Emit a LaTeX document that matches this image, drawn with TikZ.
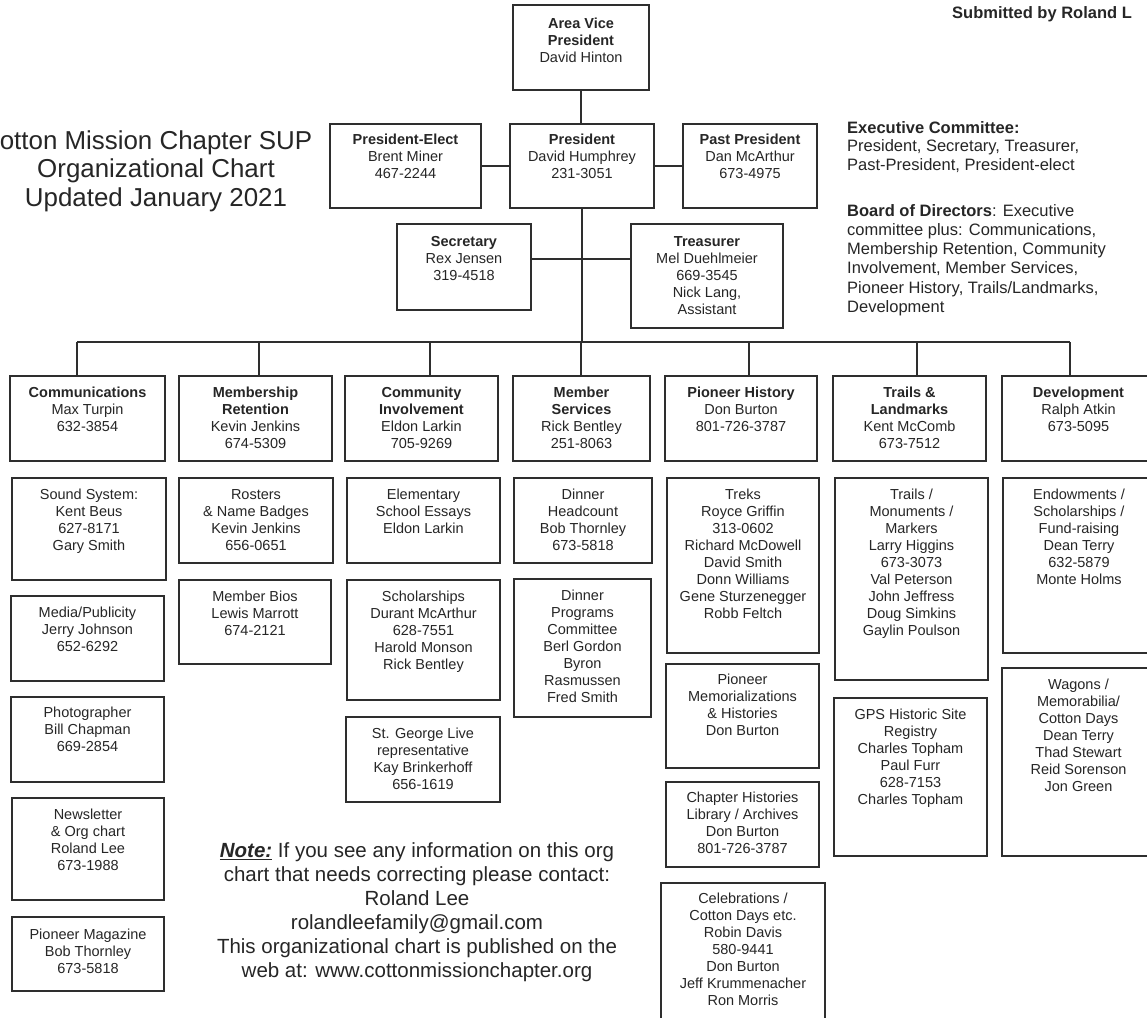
\documentclass[tikz,border=0pt]{standalone}
\usepackage{fontspec}
\setmainfont{Liberation Sans}
\usetikzlibrary{fit}
\definecolor{ink}{HTML}{262626}
\definecolor{ln}{HTML}{2E2E2E}
\tikzset{
  obox/.style={draw=ln, line width=1.6pt, inner sep=0pt, fill=white},
  otext/.style={align=center, inner sep=0pt, text=ink, font=\fontsize{14.5}{17}\selectfont},
  conn/.style={draw=ln, line width=1.6pt},
  plain/.style={inner sep=0pt, text=ink},
}
% #1 top offset, #2 name, #3 x1, #4 y1, #5 x2, #6 y2, #7 text
\newcommand\ob[7][11.5]{%
  \node[obox, fit={(#3,#4)(#5,#6)}] (#2) {};
  \node[otext, anchor=north] (#2-t) at ([yshift=-#1pt]#2.north) {\rule{0pt}{11pt}#7};
}
\begin{document}
\begin{tikzpicture}[x=1pt, y=-1pt]
\useasboundingbox (0,0) rectangle (1147,1017);
\clip (0,0) rectangle (1147,1017);
\fill[white] (0,0) rectangle (1147,1017);

% header texts
\node[plain, anchor=base west, font=\fontsize{16.5}{19}\selectfont\bfseries] (subm) at (952,18) {Submitted by Roland L};
\node[plain, anchor=north, align=center, font=\fontsize{25.9}{28.5}\selectfont] (title) at (156,130)
  {\rule{0pt}{19pt}otton Mission Chapter SUP\\Organizational Chart\\Updated January 2021};
\node[plain, anchor=north west, align=left, font=\fontsize{16.5}{18.5}\selectfont] (exec) at (847,121)
  {\rule{0pt}{12pt}\textbf{Executive Committee:}\\President, Secretary, Treasurer,\\Past-President, President-elect};
\node[plain, anchor=north west, align=left, font=\fontsize{16.5}{19.2}\selectfont] (board) at (847,204)
  {\rule{0pt}{12pt}\textbf{Board of Directors}: Executive\\committee plus: Communications,\\Membership Retention, Community\\Involvement, Member Services,\\Pioneer History, Trails/Landmarks,\\Development};
\node[plain, anchor=north, align=center, font=\fontsize{20.5}{24}\selectfont] (note) at (417,842)
  {\rule{0pt}{15pt}{\bfseries\itshape\underline{Note:}} If you see any information on this org\\chart that needs correcting please contact:\\Roland Lee\\rolandleefamily@gmail.com\\This organizational chart is published on the\\web at: www.cottonmissionchapter.org};

% top of the chart
\ob[13]{avp}{513}{5}{649}{90}{\textbf{Area Vice}\\\textbf{President}\\David Hinton}
\ob[10]{pel}{330}{124}{481}{208}{\textbf{President-Elect}\\Brent Miner\\467-2244}
\ob[10]{pres}{510}{124}{654}{208}{\textbf{President}\\David Humphrey\\231-3051}
\ob[10]{past}{683}{124}{817}{208}{\textbf{Past President}\\Dan McArthur\\673-4975}
\ob[12]{sec}{397}{224}{531}{310}{\textbf{Secretary}\\Rex Jensen\\319-4518}
\ob[12]{tre}{631}{224}{783}{328}{\textbf{Treasurer}\\Mel Duehlmeier\\669-3545\\Nick Lang,\\Assistant}

% departments
\ob{comm}{10}{376}{165}{461}{\textbf{Communications}\\Max Turpin\\632-3854}
\ob{memret}{179}{376}{332}{461}{\textbf{Membership}\\\textbf{Retention}\\Kevin Jenkins\\674-5309}
\ob{comint}{345}{376}{498}{461}{\textbf{Community}\\\textbf{Involvement}\\Eldon Larkin\\705-9269}
\ob{memsvc}{513}{376}{650}{461}{\textbf{Member}\\\textbf{Services}\\Rick Bentley\\251-8063}
\ob{pioh}{665}{376}{817}{461}{\textbf{Pioneer History}\\Don Burton\\801-726-3787}
\ob{trails}{833}{376}{986}{461}{\textbf{Trails \&}\\\textbf{Landmarks}\\Kent McComb\\673-7512}
\ob{dev}{1002}{376}{1155}{461}{\textbf{Development}\\Ralph Atkin\\673-5095}

% column 1
\ob{sound}{12}{478}{166}{580}{Sound System:\\Kent Beus\\627-8171\\Gary Smith}
\ob{media}{11}{596}{164}{681}{Media/Publicity\\Jerry Johnson\\652-6292}
\ob[10.5]{photo}{11}{697}{164}{782}{Photographer\\Bill Chapman\\669-2854}
\ob{news}{12}{798}{164}{900}{Newsletter\\\& Org chart\\Roland Lee\\673-1988}
\ob[12.5]{pmag}{12}{917}{164}{991}{Pioneer Magazine\\Bob Thornley\\673-5818}

% column 2
\ob{rost}{179}{478}{333}{563}{Rosters\\\& Name Badges\\Kevin Jenkins\\656-0651}
\ob{bios}{179}{580}{331}{664}{Member Bios\\Lewis Marrott\\674-2121}

% column 3
\ob{elem}{347}{478}{500}{563}{Elementary\\School Essays\\Eldon Larkin}
\ob{schol}{347}{580}{500}{700}{Scholarships\\Durant McArthur\\628-7551\\Harold Monson\\Rick Bentley}
\ob{sgl}{346}{717}{500}{802}{St. George Live\\representative\\Kay Brinkerhoff\\656-1619}

% column 4
\ob{dhead}{514}{478}{652}{563}{Dinner\\Headcount\\Bob Thornley\\673-5818}
\ob{dprog}{514}{579}{651}{717}{Dinner\\Programs\\Committee\\Berl Gordon\\Byron\\Rasmussen\\Fred Smith}

% column 5
\ob{treks}{667}{478}{819}{653}{Treks\\Royce Griffin\\313-0602\\Richard McDowell\\David Smith\\Donn Williams\\Gene Sturzenegger\\Robb Feltch}
\ob[10]{pmem}{666}{664}{819}{768}{Pioneer\\Memorializations\\\& Histories\\Don Burton}
\ob[10]{chist}{666}{782}{819}{867}{Chapter Histories\\Library / Archives\\Don Burton\\801-726-3787}
\ob[10]{celeb}{661}{883}{825}{1030}{Celebrations /\\Cotton Days etc.\\Robin Davis\\580-9441\\Don Burton\\Jeff Krummenacher\\Ron Morris}

% column 6
\ob{tmon}{835}{478}{988}{680}{Trails /\\Monuments /\\Markers\\Larry Higgins\\673-3073\\Val Peterson\\John Jeffress\\Doug Simkins\\Gaylin Poulson}
\ob{gps}{834}{698}{987}{856}{GPS Historic Site\\Registry\\Charles Topham\\Paul Furr\\628-7153\\Charles Topham}

% column 7
\ob{endow}{1003}{478}{1155}{653}{Endowments /\\Scholarships /\\Fund-raising\\Dean Terry\\632-5879\\Monte Holms}
\ob{wagons}{1002}{668}{1155}{856}{Wagons /\\Memorabilia/\\Cotton Days\\Dean Terry\\Thad Stewart\\Reid Sorenson\\Jon Green}

% connectors
\coordinate (d1) at (77,342);
\coordinate (d2) at (259,342);
\coordinate (d3) at (430,342);
\coordinate (d4) at (581,342);
\coordinate (d5) at (749,342);
\coordinate (d6) at (917,342);
\coordinate (d7) at (1070,342);
\draw[conn] (avp.south) -- (avp.south |- pres.north);
\draw[conn] (pel.east) -- (pres.west);
\draw[conn] (pres.east) -- (past.west);
\draw[conn] (pres.south) -- (pres.south |- d1);
\draw[conn] ([yshift=8pt]sec.east) -- ([yshift=8pt]sec.east -| tre.west);
\draw[conn] (d1) -- (d7);
\draw[conn] (d1) -- (d1 |- comm.north);
\draw[conn] (d2) -- (d2 |- memret.north);
\draw[conn] (d3) -- (d3 |- comint.north);
\draw[conn] (d4) -- (d4 |- memsvc.north);
\draw[conn] (d5) -- (d5 |- pioh.north);
\draw[conn] (d6) -- (d6 |- trails.north);
\draw[conn] (d7) -- (d7 |- dev.north);
\end{tikzpicture}
\end{document}
